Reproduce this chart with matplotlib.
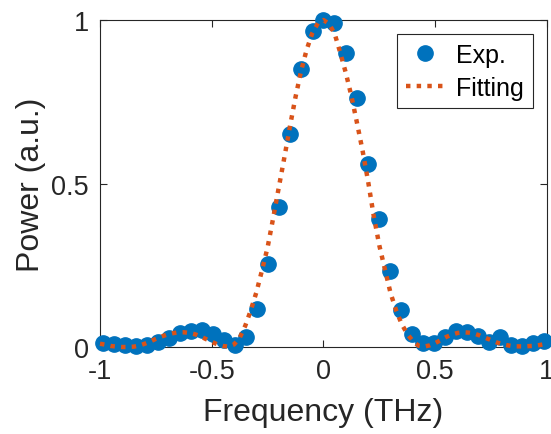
import matplotlib
matplotlib.use("Agg")
import matplotlib.pyplot as plt

plt.rcParams['font.family'] = ['Liberation Sans', 'DejaVu Sans']
plt.rcParams['axes.unicode_minus'] = False

# measured spectrum (THz, normalised power)
freq_exp = [-0.988, -0.938, -0.889, -0.840, -0.790, -0.741, -0.692, -0.642,
            -0.593, -0.543, -0.494, -0.445, -0.395, -0.346, -0.296, -0.247,
            -0.198, -0.148, -0.099, -0.049, 0.0, 0.049, 0.099, 0.148, 0.198,
            0.247, 0.296, 0.346, 0.395, 0.445, 0.494, 0.543, 0.593, 0.642,
            0.692, 0.741, 0.790, 0.840, 0.889, 0.938, 0.988]
power_exp = [0.013, 0.009, 0.005, 0.003, 0.005, 0.014, 0.028, 0.042,
             0.050, 0.051, 0.041, 0.020, 0.005, 0.031, 0.116, 0.254,
             0.428, 0.650, 0.850, 0.965, 1.000, 0.990, 0.898, 0.760, 0.560,
             0.390, 0.233, 0.113, 0.040, 0.012, 0.012, 0.030, 0.048, 0.045,
             0.033, 0.014, 0.032, 0.005, 0.004, 0.012, 0.018]

# fitted curve
freq_fit = [-1.000, -0.975, -0.950, -0.925, -0.900, -0.875, -0.850, -0.825,
            -0.800, -0.775, -0.750, -0.725, -0.700, -0.675, -0.650, -0.625,
            -0.600, -0.575, -0.550, -0.525, -0.500, -0.475, -0.450, -0.425,
            -0.400, -0.375, -0.350, -0.325, -0.300, -0.275, -0.250, -0.225,
            -0.200, -0.175, -0.150, -0.125, -0.100, -0.075, -0.050, -0.025,
            0.000, 0.025, 0.050, 0.075, 0.100, 0.125, 0.150, 0.175,
            0.200, 0.225, 0.250, 0.275, 0.300, 0.325, 0.350, 0.375,
            0.400, 0.425, 0.450, 0.475, 0.500, 0.525, 0.550, 0.575,
            0.600, 0.625, 0.650, 0.675, 0.700, 0.725, 0.750, 0.775,
            0.800, 0.825, 0.850, 0.875, 0.900, 0.925, 0.950, 0.975, 1.000]
power_fit = [0.010, 0.007, 0.003, 0.001, 0.000, 0.000, 0.001, 0.004,
             0.010, 0.017, 0.025, 0.032, 0.038, 0.042, 0.045, 0.045,
             0.043, 0.039, 0.032, 0.024, 0.016, 0.008, 0.003, 0.001,
             0.008, 0.028, 0.065, 0.113, 0.168, 0.235, 0.305, 0.395,
             0.488, 0.580, 0.675, 0.765, 0.845, 0.910, 0.960, 0.990,
             1.000, 0.988, 0.958, 0.900, 0.838, 0.767, 0.685, 0.600,
             0.505, 0.400, 0.310, 0.237, 0.165, 0.112, 0.070, 0.040,
             0.018, 0.004, 0.001, 0.005, 0.012, 0.021, 0.031, 0.038,
             0.043, 0.045, 0.044, 0.041, 0.035, 0.028, 0.021, 0.014,
             0.009, 0.005, 0.002, 0.002, 0.002, 0.003, 0.004, 0.007, 0.010]

xticks = [-1, -0.5, 0, 0.5, 1]
xlabels = ['-1', '-0.5', '0', '0.5', '1']
yticks = [0, 0.5, 1]
ylabels = ['0', '0.5', '1']

grey = '#262626'

fig = plt.figure(figsize=(5.51, 4.35), dpi=100)
ax = fig.add_axes([0.1815, 0.2, 0.8112, 0.7517])

ax.plot(freq_exp, power_exp, 'o', color='#0072BD', markersize=11,
        label='Exp.', clip_on=False, zorder=3)
ax.plot(freq_fit, power_fit, color='#D95319', lw=3.2,
        linestyle=(0, (1, 1.4)), label='Fitting', clip_on=False, zorder=4)

ax.set_xlim(-1, 1)
ax.set_ylim(0, 1)
ax.set_xticks(xticks)
ax.set_xticklabels(xlabels)
ax.set_yticks(yticks)
ax.set_yticklabels(ylabels)
ax.tick_params(direction='in', length=5, width=0.8, colors=grey,
               labelsize=19.5, top=True, right=True, pad=8)
for s in ax.spines.values():
    s.set_color(grey)
    s.set_linewidth(0.8)

ax.set_xlabel('Frequency (THz)', fontsize=23, color=grey, labelpad=9)
ax.set_ylabel('Power (a.u.)', fontsize=23, color=grey, labelpad=4)

leg = ax.legend(loc='upper right', bbox_to_anchor=(0.968, 0.957),
                borderaxespad=0, fontsize=18, handlelength=1.5,
                handletextpad=0.5, labelspacing=0.35, borderpad=0.35,
                fancybox=False, framealpha=1)
leg.get_frame().set_edgecolor(grey)
leg.get_frame().set_linewidth(0.8)

fig.savefig('out.png', dpi=100)
